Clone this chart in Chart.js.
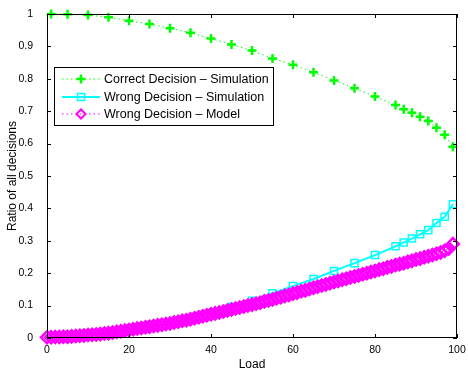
<!DOCTYPE html>
<html>
<head>
<meta charset="utf-8">
<script src="https://cdn.jsdelivr.net/npm/chart.js@4"></script>
<style>
html, body { margin: 0; padding: 0; background: #fff; }
#wrap { width: 468px; height: 369px; }
</style>
</head>
<body>
<div id="wrap"><canvas id="chart" width="468" height="369"></canvas></div>
<script>
// simulation points (load values where the simulation was run)
const loadSim = [1, 5, 10, 15, 20, 25, 30, 35, 40, 45, 50, 55, 60, 65, 70, 75, 80, 85, 87, 89, 91, 93, 95, 97, 99];
const correctSim = [1.0, 0.999, 0.997, 0.99, 0.979, 0.969, 0.956, 0.942, 0.924, 0.906, 0.887, 0.863, 0.843, 0.82, 0.795, 0.771, 0.745, 0.719, 0.706, 0.695, 0.683, 0.67, 0.649, 0.627, 0.59];
const wrongSim = [0.002, 0.006, 0.011, 0.017, 0.025, 0.034, 0.046, 0.06, 0.077, 0.096, 0.115, 0.138, 0.16, 0.182, 0.207, 0.231, 0.256, 0.283, 0.295, 0.307, 0.32, 0.333, 0.355, 0.374, 0.413];

// model curve, one point per load unit
const loadModel = [
    0, 1, 2, 3, 4, 5, 6, 7, 8, 9,
    10, 11, 12, 13, 14, 15, 16, 17, 18, 19,
    20, 21, 22, 23, 24, 25, 26, 27, 28, 29,
    30, 31, 32, 33, 34, 35, 36, 37, 38, 39,
    40, 41, 42, 43, 44, 45, 46, 47, 48, 49,
    50, 51, 52, 53, 54, 55, 56, 57, 58, 59,
    60, 61, 62, 63, 64, 65, 66, 67, 68, 69,
    70, 71, 72, 73, 74, 75, 76, 77, 78, 79,
    80, 81, 82, 83, 84, 85, 86, 87, 88, 89,
    90, 91, 92, 93, 94, 95, 96, 97, 98, 99
];
const wrongModel = [
    0.002, 0.002, 0.003, 0.003, 0.004, 0.004, 0.005, 0.006, 0.007, 0.008,
    0.009, 0.010, 0.011, 0.012, 0.014, 0.015, 0.017, 0.019, 0.021, 0.023,
    0.025, 0.027, 0.029, 0.031, 0.033, 0.035, 0.037, 0.039, 0.041, 0.043,
    0.045, 0.048, 0.050, 0.053, 0.055, 0.058, 0.061, 0.064, 0.067, 0.070,
    0.073, 0.076, 0.079, 0.082, 0.085, 0.088, 0.091, 0.094, 0.097, 0.100,
    0.103, 0.106, 0.109, 0.113, 0.116, 0.119, 0.123, 0.126, 0.130, 0.133,
    0.137, 0.140, 0.144, 0.147, 0.151, 0.155, 0.158, 0.162, 0.165, 0.169,
    0.173, 0.176, 0.180, 0.183, 0.187, 0.190, 0.193, 0.197, 0.200, 0.204,
    0.207, 0.211, 0.214, 0.218, 0.221, 0.225, 0.228, 0.231, 0.235, 0.238,
    0.242, 0.245, 0.249, 0.252, 0.256, 0.260, 0.264, 0.269, 0.276, 0.290
];

const seriesLabels = ['Correct Decision \u2013 Simulation', 'Wrong Decision \u2013 Simulation', 'Wrong Decision \u2013 Model'];
const xTicks = [0, 20, 40, 60, 80, 100];
const yTicks = [0, 0.1, 0.2, 0.3, 0.4, 0.5, 0.6, 0.7, 0.8, 0.9, 1];

const FONT = '"Liberation Sans", Arial, Helvetica, sans-serif';

function toPoints(xs, ys) {
    return xs.map((x, i) => ({ x: x, y: ys[i] }));
}

// MATLAB-style box with inward ticks, plus a legend inside the axes
const matlabAxes = {
    id: 'matlabAxes',
    afterDraw(chart) {
        const ctx = chart.ctx;
        const area = chart.chartArea;
        const xs = chart.scales.x;
        const ys = chart.scales.y;
        const len = 4;

        ctx.save();
        ctx.strokeStyle = '#000';
        ctx.lineWidth = 1;
        ctx.strokeRect(area.left + 0.5, area.top + 0.5, area.right - area.left - 1, area.bottom - area.top - 1);
        ctx.beginPath();
        xTicks.forEach(v => {
            const px = Math.round(xs.getPixelForValue(v)) + 0.5;
            ctx.moveTo(px, area.bottom); ctx.lineTo(px, area.bottom - len);
            ctx.moveTo(px, area.top); ctx.lineTo(px, area.top + len);
        });
        yTicks.forEach(v => {
            const py = Math.round(ys.getPixelForValue(v)) + 0.5;
            ctx.moveTo(area.left, py); ctx.lineTo(area.left + len, py);
            ctx.moveTo(area.right, py); ctx.lineTo(area.right - len, py);
        });
        ctx.stroke();

        // legend
        const bx = 54, by = 67, bw = 219, bh = 58;
        ctx.fillStyle = '#fff';
        ctx.fillRect(bx, by, bw, bh);
        ctx.strokeRect(bx + 0.5, by + 0.5, bw, bh);
        const rows = [79, 97, 114];
        [0, 1, 2].forEach((di, i) => {
            const ds = chart.data.datasets[di];
            const y = rows[i];
            ctx.save();
            ctx.strokeStyle = ds.borderColor;
            ctx.lineWidth = ds.borderWidth;
            ctx.setLineDash(ds.borderDash || []);
            ctx.beginPath();
            ctx.moveTo(62, y);
            ctx.lineTo(100, y);
            ctx.stroke();
            ctx.setLineDash([]);
            ctx.fillStyle = 'rgba(0,0,0,0)';
            ctx.strokeStyle = ds.pointBorderColor;
            ctx.lineWidth = di === 2 ? 2 : ds.pointBorderWidth;
            Chart.helpers.drawPoint(ctx, {
                pointStyle: ds.pointStyle,
                radius: di === 2 ? 4.5 : ds.pointRadius,
                borderWidth: ctx.lineWidth,
                rotation: 0
            }, 81, y);
            ctx.restore();
            ctx.fillStyle = '#000';
            ctx.font = '12.5px ' + FONT;
            ctx.textBaseline = 'middle';
            ctx.fillText(seriesLabels[di], 104, y + 1);
        });
        ctx.restore();
    }
};

const chart = new Chart(document.getElementById('chart'), {
    type: 'line',
    data: {
        datasets: [
            {
                label: seriesLabels[0],
                data: toPoints(loadSim, correctSim),
                borderColor: 'rgb(0,255,0)',
                borderWidth: 1,
                borderDash: [1.5, 3],
                pointStyle: 'cross',
                pointRadius: 4.5,
                pointBorderWidth: 2.5,
                pointBorderColor: 'rgb(0,255,0)',
                pointBackgroundColor: 'rgba(0,0,0,0)',
                tension: 0,
                order: 2
            },
            {
                label: seriesLabels[1],
                data: toPoints(loadSim, wrongSim),
                borderColor: 'rgb(0,255,255)',
                borderWidth: 2,
                pointStyle: 'rect',
                pointRadius: 5,
                pointBorderWidth: 1.5,
                pointBorderColor: 'rgb(0,255,255)',
                pointBackgroundColor: 'rgba(0,0,0,0)',
                tension: 0,
                order: 1
            },
            {
                label: seriesLabels[2],
                data: toPoints(loadModel, wrongModel),
                borderColor: 'rgb(255,0,255)',
                borderWidth: 1,
                borderDash: [1.5, 3],
                pointStyle: 'rectRot',
                pointRadius: 6,
                pointBorderWidth: 2.5,
                pointBorderColor: 'rgb(255,0,255)',
                pointBackgroundColor: 'rgba(0,0,0,0)',
                tension: 0,
                order: 0
            }
        ]
    },
    options: {
        responsive: false,
        animation: false,
        clip: false,
        layout: {
            padding: { top: 14, right: 11, left: 0, bottom: 0 }
        },
        plugins: {
            legend: { display: false },
            tooltip: { enabled: false }
        },
        scales: {
            x: {
                type: 'linear',
                min: 0,
                max: 100,
                afterFit: scale => { scale.height = 31; },
                afterBuildTicks: scale => { scale.ticks = xTicks.map(v => ({ value: v })); },
                grid: { display: false },
                border: { display: false },
                ticks: {
                    padding: -2,
                    color: '#000',
                    font: { family: FONT, size: 10.5 },
                    maxRotation: 0
                },
                title: {
                    display: true,
                    text: 'Load',
                    color: '#000',
                    font: { family: FONT, size: 12, lineHeight: 1 },
                    padding: { top: 0, bottom: -2 }
                }
            },
            y: {
                type: 'linear',
                min: 0,
                max: 1,
                afterFit: scale => { scale.width = 47; },
                afterBuildTicks: scale => { scale.ticks = yTicks.map(v => ({ value: v })); },
                grid: { display: false },
                border: { display: false },
                ticks: {
                    padding: 6,
                    color: '#000',
                    font: { family: FONT, size: 10.5 },
                    callback: v => String(v)
                },
                title: {
                    display: true,
                    text: 'Ratio of all decisions',
                    color: '#000',
                    font: { family: FONT, size: 12, lineHeight: 1 },
                    padding: { top: 7, bottom: 0 }
                }
            }
        }
    },
    plugins: [matlabAxes]
});
</script>
</body>
</html>
